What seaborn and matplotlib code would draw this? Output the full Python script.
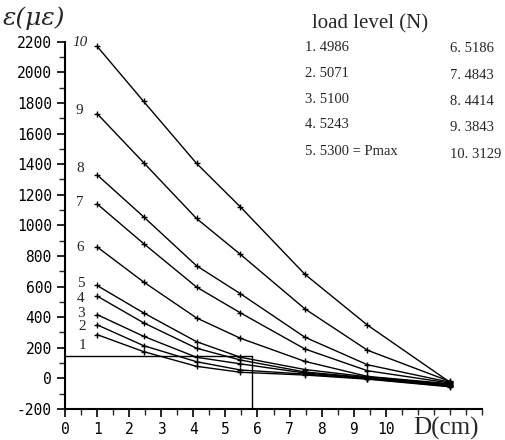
import matplotlib
matplotlib.use("Agg")
import matplotlib.pyplot as plt
import seaborn as sns
import pandas as pd
from matplotlib.ticker import MultipleLocator

# ---- data ----
distance_cm = [1, 2.45, 4.1, 5.47, 7.48, 9.43, 12]
series_ids = [1, 2, 3, 4, 5, 6, 7, 8, 9, 10]
strain_1 = [286, 175, 79, 40, 22, -5, -55]
strain_2 = [350, 214, 109, 55, 28, -2, -52]
strain_3 = [417, 275, 138, 95, 35, 2, -48]
strain_4 = [538, 363, 197, 120, 42, 5, -45]
strain_5 = [607, 428, 240, 138, 58, 10, -40]
strain_6 = [859, 630, 395, 262, 111, 13, -35]
strain_7 = [1140, 881, 597, 428, 192, 50, -30]
strain_8 = [1330, 1056, 736, 553, 269, 89, -25]
strain_9 = [1730, 1410, 1045, 810, 454, 184, -20]
strain_10 = [2170, 1810, 1405, 1120, 680, 348, -25]
all_strains = [strain_1, strain_2, strain_3, strain_4, strain_5,
               strain_6, strain_7, strain_8, strain_9, strain_10]
load_levels = ["4986", "5071", "5100", "5243", "5300 = Pmax",
               "5186", "4843", "4414", "3843", "3129"]
label_pos_x = [0.56, 0.53, 0.5, 0.5, 0.5, 0.47, 0.47, 0.47, 0.44, 0.47]
label_pos_y = [212, 336, 422, 520, 619, 855, 1150, 1373, 1753, 2192]
ref_x = 5.83
ref_y = 144

rows = []
for sid, vals in zip(series_ids, all_strains):
    for d, v in zip(distance_cm, vals):
        rows.append({"series": sid, "D": d, "strain": v})
df = pd.DataFrame(rows)

sns.set_style("ticks")
plt.rcParams["font.family"] = ["DejaVu Sans"]
plt.rcParams["axes.unicode_minus"] = False

fig = plt.figure(figsize=(5.06, 4.40), dpi=100)
ax = fig.add_axes([65 / 506, 1 - 409 / 440, (482 - 65) / 506, (409 - 41.7) / 440])

sns.lineplot(data=df, x="D", y="strain", units="series", estimator=None,
             color="black", linewidth=1.0, marker="+", markersize=5,
             markeredgewidth=1.0, markeredgecolor="black", ax=ax, legend=False)

# reference lines
ax.plot([0, ref_x], [ref_y, ref_y], color="black", linewidth=1.0)
ax.plot([ref_x, ref_x], [-200, ref_y], color="black", linewidth=1.0)

ax.set_xlim(0, 13)
ax.set_ylim(-200, 2200)
ax.set_xlabel("")
ax.set_ylabel("")
ax.set_xticks(range(0, 11))
ax.xaxis.set_minor_locator(MultipleLocator(0.5))
ax.yaxis.set_major_locator(MultipleLocator(200))
ax.yaxis.set_minor_locator(MultipleLocator(100))
ax.tick_params(axis="both", which="major", length=6, width=1.2, direction="out",
               labelsize=10.5, colors="black")
ax.tick_params(axis="both", which="minor", length=4, width=1.0, direction="out")
for lab in ax.get_xticklabels() + ax.get_yticklabels():
    lab.set_family("DejaVu Sans Mono")
sns.despine(ax=ax)
for s in ["left", "bottom"]:
    ax.spines[s].set_linewidth(1.5)
    ax.spines[s].set_color("black")

# series labels
for sid, lx, ly in zip(series_ids, label_pos_x, label_pos_y):
    ax.text(lx, ly, str(sid), ha="center", va="center", fontsize=11,
            family="Liberation Serif", style="italic" if sid == 10 else "normal")

# axis titles
fig.text(3 / 506, 1 - 6 / 440, "ε(με)", ha="left", va="top", fontsize=18,
         family="DejaVu Serif", style="italic")
fig.text(413 / 506, 1 - 435 / 440, "D(cm)", ha="left", va="baseline",
         fontsize=18, family="Liberation Serif")

# load level text block
fig.text(312 / 506, 1 - 28 / 440, "load level (N)", ha="left", va="baseline",
         fontsize=15, family="Liberation Serif")
col1_y = [51, 77, 103, 128, 155]
col2_y = [52, 79, 105, 131, 158]
for i in range(5):
    fig.text(305 / 506, 1 - col1_y[i] / 440, f"{series_ids[i]}. {load_levels[i]}",
             ha="left", va="baseline", fontsize=10.5, family="Liberation Serif")
    fig.text(450 / 506, 1 - col2_y[i] / 440, f"{series_ids[i + 5]}. {load_levels[i + 5]}",
             ha="left", va="baseline", fontsize=10.5, family="Liberation Serif")

fig.savefig("out.png", dpi=100)
